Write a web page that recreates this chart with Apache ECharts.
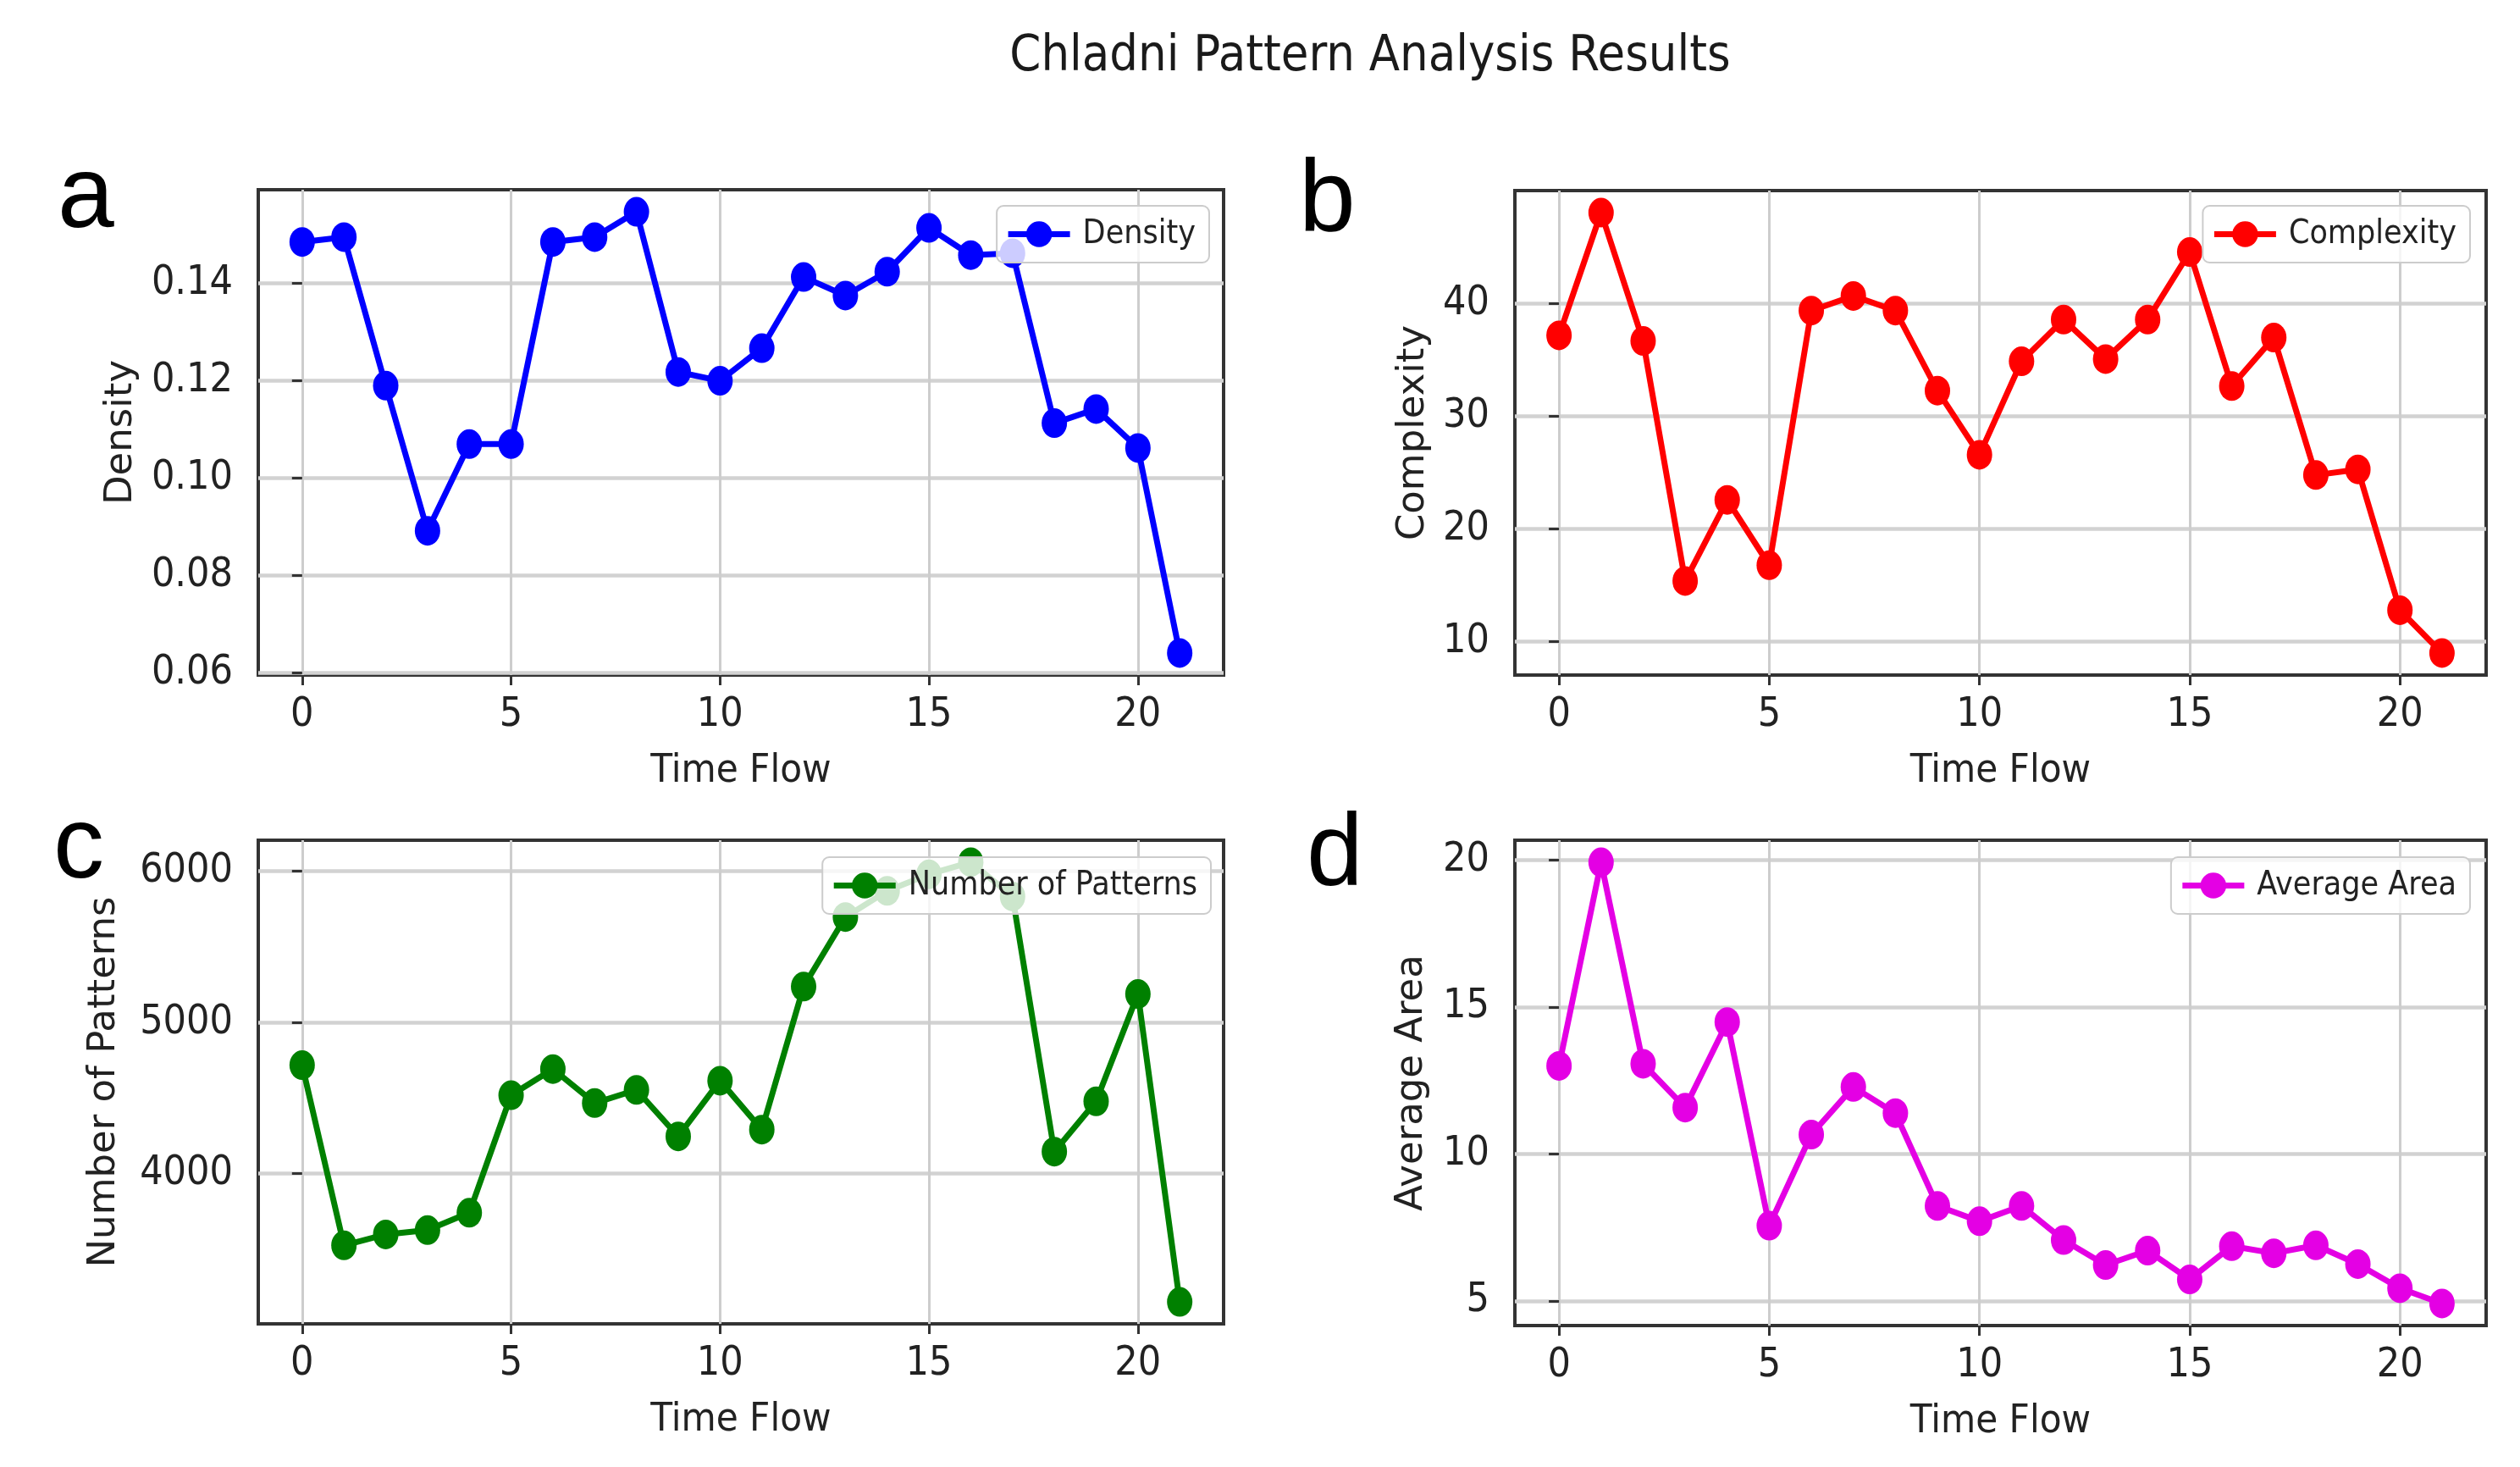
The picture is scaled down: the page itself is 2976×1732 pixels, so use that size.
<!DOCTYPE html>
<html>
<head>
<meta charset="utf-8">
<script src="https://cdn.jsdelivr.net/npm/echarts@6/dist/echarts.min.js"></script>
<style>html,body{margin:0;padding:0;background:#fff}#c{width:2976px;height:1732px}</style>
</head>
<body>
<div id="c"></div>
<script>
// ---- data ----
const timeFlow = [0,1,2,3,4,5,6,7,8,9,10,11,12,13,14,15,16,17,18,19,20,21];
const density = [0.1485,0.1495,0.1190,0.0892,0.1070,0.1070,0.1485,0.1495,0.1547,0.1218,0.1200,0.1267,0.1413,0.1375,0.1424,0.1514,0.1458,0.1462,0.1113,0.1142,0.1062,0.0641];
const complexity = [37.2,48.1,36.7,15.4,22.6,16.8,39.4,40.7,39.4,32.3,26.6,34.9,38.6,35.1,38.6,44.6,32.7,37.0,24.8,25.3,12.8,9.0];
const patterns = [4717,3524,3596,3625,3740,4518,4691,4466,4553,4245,4614,4290,5237,5697,5870,5980,6060,5833,4144,4477,5188,3150];
const avgArea = [13.0,19.93,13.07,11.58,14.49,7.56,10.66,12.28,11.39,8.23,7.71,8.23,7.07,6.22,6.71,5.73,6.86,6.62,6.89,6.25,5.43,4.91];
const xTicks = [0,5,10,15,20];
const densityTicks = [0.06,0.08,0.10,0.12,0.14];
const complexityTicks = [10,20,30,40];
const patternTicks = [4000,5000,6000];
const areaTicks = [5,10,15,20];
const seriesNames = ['Density','Complexity','Number of Patterns','Average Area'];
const panelLetters = ['a','b','c','d'];
const titleText = 'Chladni Pattern Analysis Results';
const xName = 'Time Flow';

// ---- layout / style ----
const COND = "'DejaVu Sans Condensed','DejaVu Sans',sans-serif";
const NORM = "'DejaVu Sans',sans-serif";
const panels = [
  {data: density, ticks: densityTicks, fmt: v => v.toFixed(2), color: '#0000ff',
   grid: {left: 305, top: 224, width: 1140, height: 573}, nameGap: 139, legend: {right: 1548, top: 243},
   letter: {x: 68, y: 235}},
  {data: complexity, ticks: complexityTicks, fmt: v => String(v), color: '#ff0000',
   grid: {left: 1789, top: 225, width: 1147, height: 572}, nameGap: 97, legend: {right: 59, top: 243},
   letter: {x: 1534, y: 239}},
  {data: patterns, ticks: patternTicks, fmt: v => String(v), color: '#008000',
   grid: {left: 305, top: 992, width: 1140, height: 571}, nameGap: 159, legend: {right: 1546, top: 1012},
   letter: {x: 63, y: 1003}},
  {data: avgArea, ticks: areaTicks, fmt: v => String(v), color: '#e400e4',
   grid: {left: 1789, top: 992, width: 1147, height: 573}, nameGap: 99, legend: {right: 59, top: 1012},
   letter: {x: 1543, y: 1011}}
];

function limits(arr) {
  const mn = Math.min(...arr), mx = Math.max(...arr), r = mx - mn;
  return [mn - 0.05 * r, mx + 0.05 * r];
}
const xLim = limits(timeFlow);

const grids = [], xAxes = [], yAxes = [], series = [], legends = [], graphics = [];
panels.forEach((p, i) => {
  grids.push(Object.assign({show: true, borderColor: '#333', borderWidth: 4, backgroundColor: 'transparent'}, p.grid));
  xAxes.push({
    type: 'value', gridIndex: i, min: xLim[0], max: xLim[1],
    name: xName, nameLocation: 'middle', nameGap: 90,
    nameTextStyle: {fontFamily: COND, fontSize: 47, color: '#222'},
    axisLine: {show: false},
    axisTick: {show: true, inside: false, length: 12, customValues: xTicks, lineStyle: {color: '#333', width: 3}},
    axisLabel: {show: true, customValues: xTicks, margin: 24, fontFamily: COND, fontSize: 48, color: '#222'},
    splitLine: {show: true, lineStyle: {color: '#cdcdcd', width: 3}}
  });
  const yl = limits(p.data);
  yAxes.push({
    type: 'value', gridIndex: i, min: yl[0], max: yl[1],
    name: seriesNames[i], nameLocation: 'middle', nameGap: p.nameGap,
    nameTextStyle: {fontFamily: NORM, fontSize: 45, color: '#222'},
    axisLine: {show: false},
    axisTick: {show: true, inside: false, length: 12, customValues: p.ticks, lineStyle: {color: '#333', width: 3}},
    axisLabel: {show: true, customValues: p.ticks, margin: 30, fontFamily: COND, fontSize: 48, color: '#222', formatter: p.fmt},
    splitLine: {show: true, lineStyle: {color: '#d2d2d2', width: 4.5}}
  });
  series.push({
    type: 'line', name: seriesNames[i], xAxisIndex: i, yAxisIndex: i,
    data: timeFlow.map((t, k) => [t, p.data[k]]),
    symbol: 'circle', symbolSize: [30, 35], showSymbol: true,
    lineStyle: {color: p.color, width: 7},
    itemStyle: {color: p.color},
    emphasis: {disabled: true}, animation: false, clip: false
  });
  legends.push({
    data: [seriesNames[i]], right: p.legend.right, top: p.legend.top,
    orient: 'horizontal', itemWidth: 73, itemHeight: 38,
    padding: [14, 16, 14, 10],
    backgroundColor: 'rgba(255,255,255,0.8)', borderColor: '#cccccc', borderWidth: 2, borderRadius: 8,
    lineStyle: {width: 7, color: p.color},
    itemStyle: {color: p.color},
    textStyle: {fontFamily: COND, fontSize: 39, color: '#222', padding: [0, 0, 0, 10]},
    selectedMode: false
  });
  graphics.push({
    type: 'text', left: p.letter.x, top: p.letter.y - 60,
    style: {text: panelLetters[i], font: "120px 'Liberation Sans', Arial, sans-serif", fill: '#000'}
  });
});
graphics.push({
  type: 'text', x: 1618, y: 68,
  style: {text: titleText, font: "59px " + COND, fill: '#1a1a1a', textAlign: 'center', textVerticalAlign: 'middle'}
});

const chart = echarts.init(document.getElementById('c'), null, {renderer: 'canvas'});
chart.setOption({
  animation: false,
  backgroundColor: '#ffffff',
  grid: grids, xAxis: xAxes, yAxis: yAxes, series: series, legend: legends,
  graphic: graphics
});
</script>
</body>
</html>
